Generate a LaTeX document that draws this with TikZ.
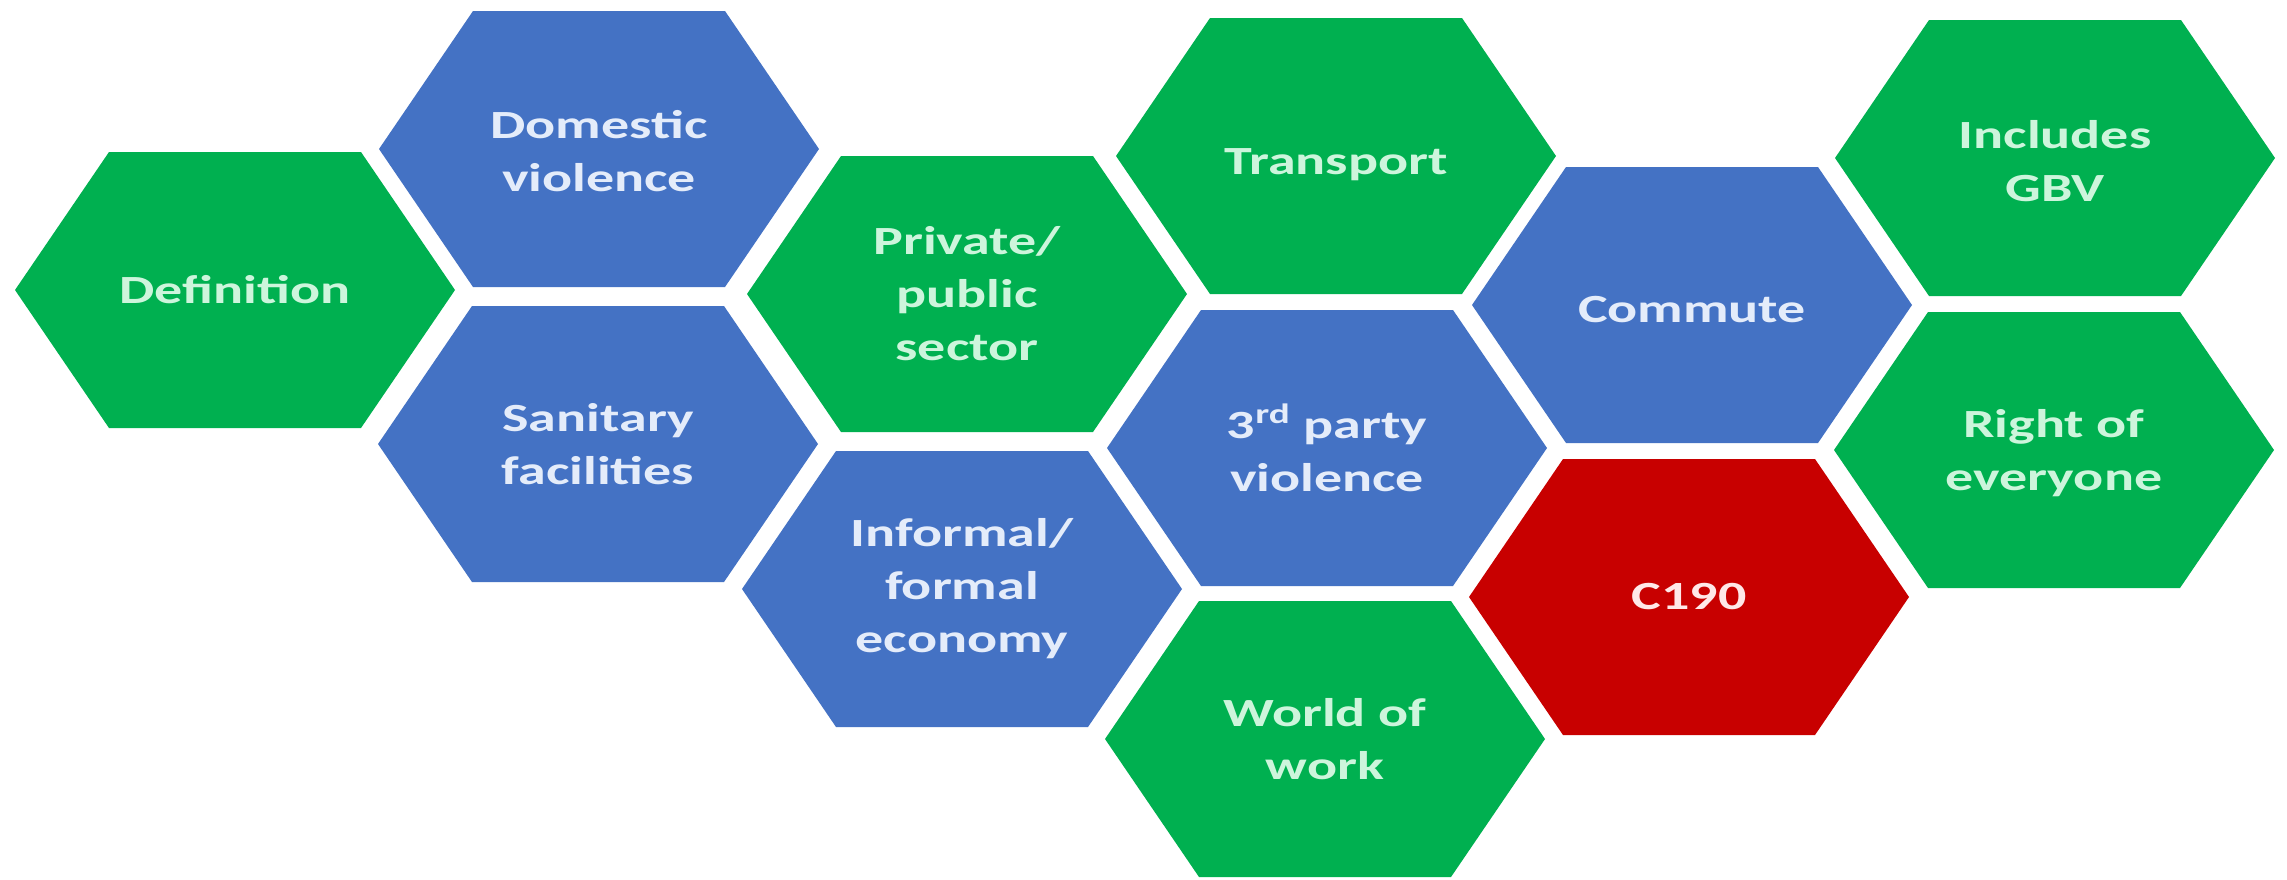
\documentclass[tikz,border=0pt]{standalone}
\usepackage{fontspec}
\newfontfamily\hexfont{Carlito}[FakeStretch=1.4]
\definecolor{hgreen}{RGB}{0,176,80}
\definecolor{hblue}{RGB}{68,114,196}
\definecolor{hred}{RGB}{200,0,0}
\definecolor{tgreen}{RGB}{205,245,220}
\definecolor{tblue}{RGB}{228,236,250}
\definecolor{tred}{RGB}{255,232,232}
\tikzset{
  hextext/.style={font=\hexfont\bfseries\fontsize{20}{26.5}\selectfont, align=center, inner sep=0pt},
}
% #1 name, #2 x, #3 y, #4 fill, #5 text colour, #6 text, #7 text y offset
\newcommand{\hexcell}[7]{%
  \fill[#4] (#2-220,#3) -- (#2-126,#3-138) -- (#2+126,#3-138) -- (#2+220,#3) -- (#2+126,#3+138) -- (#2-126,#3+138) -- cycle;
  \node[hextext,text=#5] (#1) at (#2,#3+#7) {#6};}
\begin{document}
\begin{tikzpicture}[x=0.5pt,y=-0.5pt]
\useasboundingbox (0,0) rectangle (2287,879);
\fill[white] (0,0) rectangle (2287,879);
\hexcell{definition}{235}{290}{hgreen}{tgreen}{Definition}{0}
\hexcell{domestic}{599}{149}{hblue}{tblue}{Domestic\\violence}{2}
\hexcell{sanitary}{598}{444}{hblue}{tblue}{Sanitary\\facilities}{0}
\hexcell{private}{967}{294}{hgreen}{tgreen}{Private/\\public\\sector}{0}
\hexcell{informal}{962}{589}{hblue}{tblue}{Informal/\\formal\\economy}{0}
\hexcell{transport}{1336}{156}{hgreen}{tgreen}{Transport}{9}
\hexcell{thirdparty}{1327}{448}{hblue}{tblue}{3\textsuperscript{rd} party\\violence}{0}
\hexcell{world}{1325}{739}{hgreen}{tgreen}{World of\\work}{0}
\hexcell{commute}{1692}{305}{hblue}{tblue}{Commute}{5}
\hexcell{c190}{1689}{597}{hred}{tred}{C190}{0}
\hexcell{includes}{2055}{158}{hgreen}{tgreen}{Includes\\GBV}{3}
\hexcell{right}{2054}{450}{hgreen}{tgreen}{Right of\\everyone}{3}
\end{tikzpicture}
\end{document}
